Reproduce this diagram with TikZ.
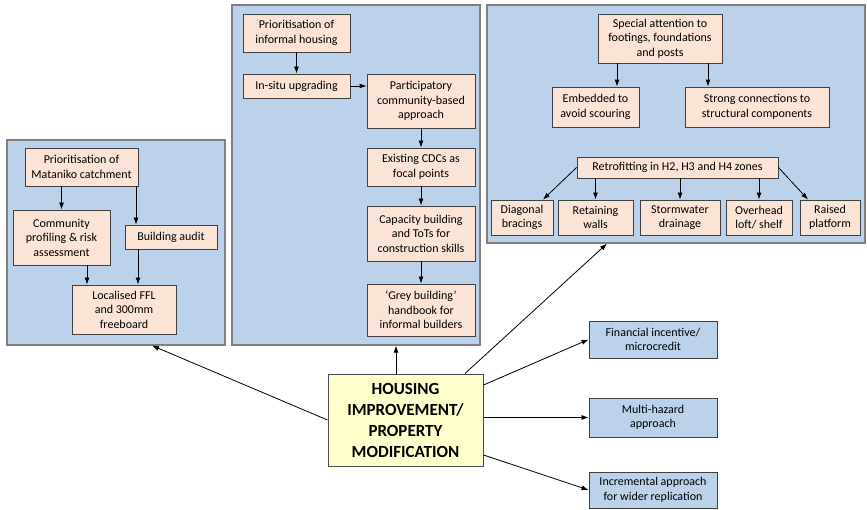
\documentclass[tikz,border=0pt]{standalone}
\usepackage{fontspec}
\setmainfont{Carlito}
\usetikzlibrary{arrows.meta}
\definecolor{panelblue}{RGB}{188,210,234}
\definecolor{peach}{RGB}{251,228,214}
\definecolor{paleyellow}{RGB}{255,255,204}
\tikzset{
	panel/.style={rectangle, draw=black!50, line width=1.2pt, fill=panelblue},
	action/.style={rectangle, draw=black!75, line width=0.9pt, fill=peach,
		align=center, inner sep=1pt, font=\fontsize{12}{14.5}\selectfont},
	sidebox/.style={action, fill=panelblue},
	hub/.style={rectangle, draw=black!70, line width=1pt, fill=paleyellow,
		align=center, font=\bfseries\fontsize{17}{21}\selectfont},
	sz/.style 2 args={minimum width=#1, minimum height=#2},
	arrow/.style={draw, -{Latex[length=7pt,width=5pt]}, line width=0.8pt}
}

\begin{document}
\begin{tikzpicture}[x=1pt, y=-1pt]

\useasboundingbox (0,0) rectangle (867,510);

% panels
\node[panel, sz={218}{205}] (lp) at (116,242.5) {};
\node[panel, sz={248}{340}] (mp) at (356,175) {};
\node[panel, sz={378}{238}] (rp) at (676,124) {};

% left panel
\node[action, sz={113}{38}] (mat) at (81.5,167)
	{Prioritisation of\\Mataniko catchment};
\node[action, sz={97}{55}] (comm) at (61.5,237.5)
	{Community\\profiling \& risk\\assessment};
\node[action, sz={92}{24}] (audit) at (171,237) {Building audit};
\node[action, sz={104}{49}] (ffl) at (124,309.5)
	{Localised FFL\\and 300mm\\freeboard};

% middle panel
\node[action, sz={107}{38}] (inf) at (296.5,33)
	{Prioritisation of\\informal housing};
\node[action, sz={107}{24}] (insitu) at (296.5,86) {In-situ upgrading};
\node[action, sz={108}{54}] (part) at (421,101)
	{Participatory\\community-based\\approach};
\node[action, sz={108}{38}] (cdc) at (421,167)
	{Existing CDCs as\\focal points};
\node[action, sz={108}{55}] (cap) at (421,233.5)
	{Capacity building\\and ToTs for\\construction skills};
\node[action, sz={108}{52}] (grey) at (421,310)
	{`Grey building'\\handbook for\\informal builders};

% right panel
\node[action, sz={124}{49}] (spec) at (660,38.5)
	{Special attention to\\footings, foundations\\and posts};
\node[action, sz={87}{40}] (emb) at (595.5,107)
	{Embedded to\\avoid scouring};
\node[action, sz={144}{40}] (strong) at (757,107)
	{Strong connections to\\structural components};
\node[action, sz={201}{21}] (retro) at (677.5,167.5)
	{Retrofitting in H2, H3 and H4 zones};
\node[action, sz={62}{35}] (diag) at (522,217.5) {Diagonal\\bracings};
\node[action, sz={75}{35}] (retw) at (595.5,217.5) {Retaining\\walls};
\node[action, sz={80}{35}] (storm) at (680,217.5) {Stormwater\\drainage};
\node[action, sz={66}{35}] (over) at (759,217.5) {Overhead\\loft/ shelf};
\node[action, sz={60}{35}] (raised) at (830,217.5) {Raised\\platform};

% centre and side boxes
\node[hub, sz={155}{92}] (hub) at (405.5,420)
	{HOUSING\\IMPROVEMENT/\\PROPERTY\\MODIFICATION};
\node[sidebox, sz={128}{37}] (fin) at (653,339.5)
	{Financial incentive/\\microcredit};
\node[sidebox, sz={128}{39}] (multi) at (653,417.5)
	{Multi-hazard\\approach};
\node[sidebox, sz={128}{36}] (inc) at (653,490)
	{Incremental approach\\for wider replication};


\draw [arrow] (mat.south -| comm.north) -- (comm.north);
\draw [arrow] ([xshift=54.5]mat.south) -- ([xshift=-35]audit.north);
\draw [arrow] ([xshift=25.5]comm.south) -- ([xshift=-37]ffl.north);
\draw [arrow] ([xshift=-33]audit.south) -- ([xshift=14]ffl.north);

\draw [arrow] (inf) -- (insitu);
\draw [arrow] (insitu.east) -- (insitu.east -| part.west);
\draw [arrow] (part) -- (cdc);
\draw [arrow] (cdc) -- (cap);
\draw [arrow] (cap) -- (grey);

\draw [arrow] ([xshift=-43]spec.south) -- ([xshift=21.5]emb.north);
\draw [arrow] ([xshift=48]spec.south) -- ([xshift=-49]strong.north);
\draw [arrow] (retro.west) -- ([xshift=21]diag.north);
\draw [arrow] (retro.south -| retw.north) -- (retw.north);
\draw [arrow] (retro.south -| storm.north) -- (storm.north);
\draw [arrow] (retro.south -| over.north) -- (over.north);
\draw [arrow] (retro.east) -- ([xshift=-22]raised.north);

\draw [arrow] (hub.west) -- ([xshift=36]lp.south);
\draw [arrow] ([xshift=-9.5]hub.north) -- ([xshift=40]mp.south);
\draw [arrow] ([xshift=59.5]hub.north) -- ([xshift=-69]rp.south);
\draw [arrow] ([yshift=35]hub.east) -- (fin.west);
\draw [arrow] (hub.east |- multi.west) -- (multi.west);
\draw [arrow] ([yshift=-35]hub.east) -- (inc.west);

\end{tikzpicture}
\end{document}
